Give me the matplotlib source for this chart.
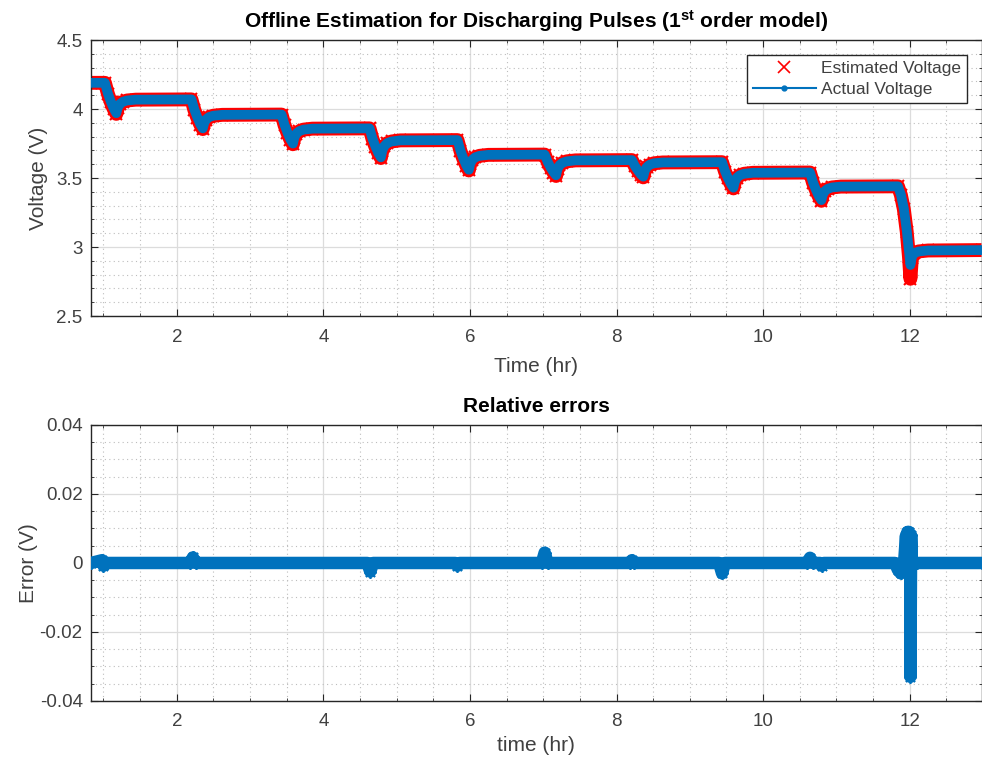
import matplotlib.pyplot as plt
from matplotlib.lines import Line2D
from matplotlib.ticker import MultipleLocator

plt.rcParams['font.family'] = ['Liberation Sans', 'DejaVu Sans']
plt.rcParams['mathtext.fontset'] = 'custom'
plt.rcParams['mathtext.rm'] = 'Liberation Sans'
plt.rcParams['mathtext.bf'] = 'Liberation Sans:bold'
plt.rcParams['mathtext.default'] = 'bf'

# Voltage readings (time in hr, voltage in V)
t_volt = [0.83,
          1.02, 1.06, 1.10, 1.14, 1.175, 1.195, 1.22, 1.26, 1.32, 1.44,
          2.20, 2.24, 2.28, 2.32, 2.355, 2.375, 2.40, 2.44, 2.50, 2.62,
          3.43, 3.47, 3.51, 3.55, 3.585, 3.605, 3.63, 3.67, 3.73, 3.85,
          4.63, 4.67, 4.71, 4.75, 4.785, 4.805, 4.83, 4.87, 4.93, 5.05,
          5.83, 5.87, 5.91, 5.95, 5.985, 6.005, 6.03, 6.07, 6.13, 6.25,
          7.02, 7.06, 7.10, 7.14, 7.175, 7.195, 7.22, 7.26, 7.32, 7.44,
          8.21, 8.25, 8.29, 8.33, 8.365, 8.385, 8.41, 8.45, 8.51, 8.63,
          9.44, 9.48, 9.52, 9.56, 9.595, 9.615, 9.64, 9.68, 9.74, 9.86,
          10.64, 10.68, 10.72, 10.76, 10.795, 10.815, 10.84, 10.88, 10.94, 11.06,
          11.84, 11.88, 11.92, 11.96, 11.99, 12.01, 12.03, 12.06, 12.12, 12.25, 12.98]

v_actual = [4.19,
            4.19, 4.113, 4.054, 4.003, 3.97, 4.01, 4.035, 4.052, 4.062, 4.068,
            4.07, 3.996, 3.94, 3.891, 3.86, 3.90, 3.925, 3.942, 3.952, 3.958,
            3.96, 3.886, 3.83, 3.781, 3.75, 3.794, 3.822, 3.84, 3.851, 3.858,
            3.86, 3.786, 3.73, 3.681, 3.65, 3.70, 3.731, 3.753, 3.765, 3.773,
            3.775, 3.70, 3.642, 3.592, 3.56, 3.604, 3.632, 3.65, 3.661, 3.668,
            3.67, 3.618, 3.577, 3.543, 3.52, 3.564, 3.592, 3.61, 3.621, 3.628,
            3.63, 3.588, 3.556, 3.528, 3.51, 3.552, 3.578, 3.596, 3.607, 3.613,
            3.615, 3.55, 3.50, 3.458, 3.43, 3.474, 3.502, 3.52, 3.531, 3.538,
            3.54, 3.47, 3.416, 3.37, 3.34, 3.38, 3.405, 3.422, 3.432, 3.438,
            3.44, 3.38, 3.28, 3.12, 2.97, 2.87, 2.93, 2.955, 2.968, 2.975, 2.978]

v_estimated = [4.19,
               4.19, 4.11, 4.05, 4.0, 3.965, 4.008, 4.034, 4.051, 4.062, 4.068,
               4.07, 3.993, 3.937, 3.888, 3.855, 3.898, 3.924, 3.941, 3.952, 3.958,
               3.96, 3.883, 3.827, 3.778, 3.745, 3.792, 3.821, 3.839, 3.851, 3.858,
               3.86, 3.783, 3.727, 3.678, 3.645, 3.698, 3.73, 3.752, 3.765, 3.773,
               3.775, 3.697, 3.639, 3.589, 3.555, 3.602, 3.631, 3.649, 3.661, 3.668,
               3.67, 3.615, 3.574, 3.54, 3.515, 3.562, 3.591, 3.609, 3.621, 3.628,
               3.63, 3.585, 3.553, 3.525, 3.505, 3.55, 3.577, 3.595, 3.607, 3.613,
               3.615, 3.547, 3.497, 3.455, 3.425, 3.472, 3.501, 3.519, 3.531, 3.538,
               3.54, 3.467, 3.413, 3.367, 3.335, 3.378, 3.404, 3.421, 3.432, 3.438,
               3.44, 3.377, 3.275, 3.11, 2.93, 2.77, 2.92, 2.955, 2.968, 2.975, 2.978]

# Relative error readings
t_err = [0.83, 0.98, 1.00, 1.05, 2.18, 2.22, 2.26, 4.60, 4.64, 4.68,
         5.80, 5.83, 5.86, 6.98, 7.02, 7.06, 8.18, 8.21, 8.24,
         9.40, 9.44, 9.48, 10.60, 10.64, 10.68, 10.78, 10.80, 10.83,
         11.80, 11.84, 11.88, 11.92, 11.95, 11.96, 11.97, 11.98, 11.99, 12.00,
         12.01, 12.01, 12.01, 12.01, 12.01, 12.01, 12.01, 12.01,
         12.02, 12.03, 12.10, 12.98]
err = [0.0, 0.0008, -0.0008, 0.0, 0.0, 0.0016, 0.0, 0.0, -0.0025, 0.0,
       0.0, -0.0008, 0.0, 0.0, 0.003, 0.0, 0.0, 0.0008, 0.0,
       0.0, -0.003, 0.0, 0.0, 0.0015, 0.0, 0.0, -0.0008, 0.0,
       0.0, -0.002, -0.003, -0.001, 0.008, -0.002, 0.009, -0.002, 0.009, 0.006,
       -0.004, -0.008, -0.012, -0.016, -0.020, -0.024, -0.028, -0.033,
       0.008, 0.0, 0.0, 0.0]

blue = '#0072BD'
red = '#FF0000'
dark = '#262626'
grey_text = '#404040'


def style_axes(ax):
    ax.grid(which='major', color='#dcdcdc', linewidth=0.9, zorder=0)
    ax.grid(which='minor', color='#bdbdbd', linewidth=0.8, linestyle=(0, (1, 3)), zorder=0)
    ax.tick_params(which='both', direction='in', top=True, right=True,
                   colors=dark, labelsize=13.5, labelcolor=grey_text)
    ax.tick_params(which='major', length=5)
    ax.tick_params(axis='x', which='major', pad=9)
    ax.tick_params(axis='y', which='major', pad=6)
    ax.tick_params(which='minor', length=2.5)
    for s in ax.spines.values():
        s.set_color(dark)
        s.set_linewidth(1.0)
    ax.set_axisbelow(True)
    ax.set_xlim(0.83, 12.98)
    ax.xaxis.set_major_locator(MultipleLocator(2))
    ax.xaxis.set_minor_locator(MultipleLocator(0.5))


fig = plt.figure(figsize=(9.82, 7.63), dpi=100)
ax1 = fig.add_axes([0.0927, 0.5858, 0.9068, 0.3617])
ax2 = fig.add_axes([0.0927, 0.0813, 0.9068, 0.3617])

# Top: voltage
ax1.plot(t_volt, v_estimated, color=red, lw=10, solid_capstyle='butt', zorder=2)
ax1.plot(t_volt, v_estimated, color=red, ls='none', marker='x', ms=8, mew=1.5, zorder=2)
ax1.plot(t_volt, v_actual, color=blue, lw=7, marker='.', ms=8, zorder=3)
style_axes(ax1)
ax1.set_ylim(2.5, 4.5)
ax1.set_yticks([2.5, 3, 3.5, 4, 4.5])
ax1.set_yticklabels(['2.5', '3', '3.5', '4', '4.5'])
ax1.yaxis.set_minor_locator(MultipleLocator(0.1))
ax1.set_xlabel('Time (hr)', fontsize=15, color=grey_text, labelpad=8)
ax1.set_ylabel('Voltage (V)', fontsize=15, color=grey_text, labelpad=6)
ax1.set_title(r'Offline Estimation for Discharging Pulses (1$^{st}$ order model)',
              fontsize=15, fontweight='bold', color='black', pad=9)

handles = [Line2D([], [], color=red, marker='x', ls='none', ms=9, mew=1.2),
           Line2D([], [], color=blue, marker='.', lw=1.5, ms=7)]
leg = ax1.legend(handles, ['Estimated Voltage', 'Actual Voltage'],
                 loc='upper right', bbox_to_anchor=(0.9837, 0.9457), borderaxespad=0,
                 fancybox=False, edgecolor=dark, fontsize=12.5, handlelength=3.6,
                 handletextpad=0.3, borderpad=0.35, labelspacing=0.3, framealpha=1)
leg.get_frame().set_linewidth(1.0)
for txt in leg.get_texts():
    txt.set_color(grey_text)

# Bottom: relative errors
ax2.plot(t_err, err, color=blue, lw=9, marker=(8, 2, 0), ms=9, mew=1.3, zorder=3)
style_axes(ax2)
ax2.set_ylim(-0.04, 0.04)
ax2.set_yticks([-0.04, -0.02, 0, 0.02, 0.04])
ax2.set_yticklabels(['-0.04', '-0.02', '0', '0.02', '0.04'])
ax2.yaxis.set_minor_locator(MultipleLocator(0.005))
ax2.set_xlabel('time (hr)', fontsize=15, color=grey_text, labelpad=4)
ax2.set_ylabel('Error (V)', fontsize=15, color=grey_text, labelpad=1)
ax2.set_title('Relative errors', fontsize=15, fontweight='bold', color='black', pad=9)

fig.savefig('out.png', dpi=100)
